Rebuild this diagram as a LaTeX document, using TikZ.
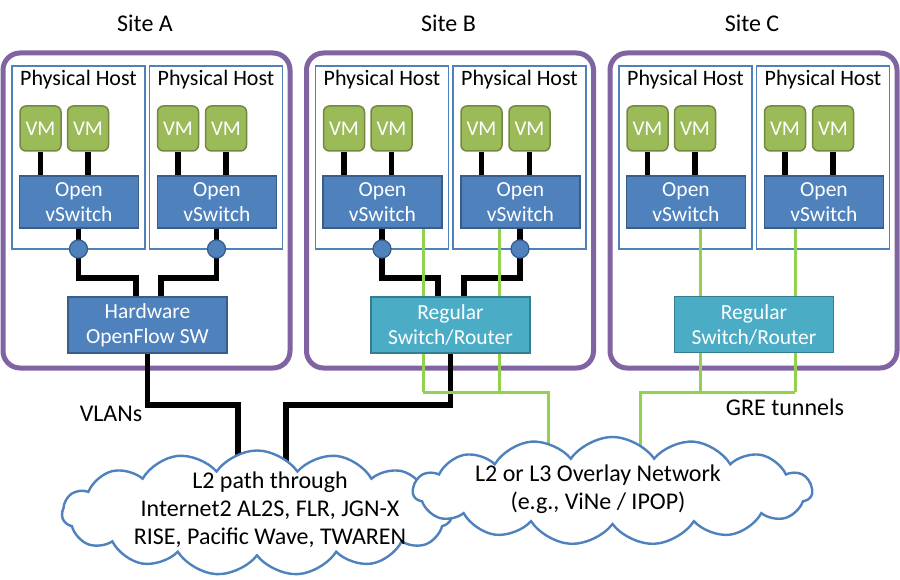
\documentclass[tikz,border=0pt]{standalone}
\usepackage{fontspec}
\setmainfont{Carlito}
\usetikzlibrary{shapes.symbols}
\definecolor{purp}{HTML}{8064A2}
\definecolor{hostblue}{HTML}{4F81BD}
\definecolor{swblue}{HTML}{4F81BD}
\definecolor{swborder}{HTML}{385D8A}
\definecolor{vmgreen}{HTML}{9BBB59}
\definecolor{vmborder}{HTML}{71893F}
\definecolor{regcyan}{HTML}{4BACC6}
\definecolor{regborder}{HTML}{357D91}
\definecolor{wiregreen}{HTML}{92D050}
\definecolor{cloudblue}{HTML}{4F81BD}
\pgfdeclarelayer{back}
\pgfdeclarelayer{wire}
\pgfsetlayers{back,wire,main}
\begin{document}
\begin{tikzpicture}[x=1pt,y=-1pt,
  sitebox/.style={draw=purp, line width=5pt, rounded corners=17pt, fill=white, minimum width=287pt, minimum height=315pt, inner sep=0pt},
  hostbox/.style={draw=hostblue, line width=1.3pt, minimum width=133pt, minimum height=183pt, inner sep=0pt},
  hostlabel/.style={font=\fontsize{22}{26}\selectfont, inner sep=0pt},
  titlelabel/.style={font=\fontsize{24}{28}\selectfont, inner sep=0pt},
  vmbox/.style={draw=vmborder, fill=vmgreen, line width=1.5pt, rounded corners=6pt, minimum width=41pt, minimum height=45pt, inner sep=0pt, text=white, font=\fontsize{21}{25}\selectfont},
  vsbox/.style={draw=swborder, fill=swblue, line width=1.5pt, minimum width=119pt, minimum height=52pt, inner sep=0pt, text=white, align=center, font=\fontsize{21.5}{25}\selectfont},
  hwbox/.style={draw=swborder, fill=swblue, line width=1.5pt, minimum width=159pt, minimum height=56pt, inner sep=0pt, text=white, align=center, font=\fontsize{21.5}{25}\selectfont},
  regbox/.style={draw=regborder, fill=regcyan, line width=1.5pt, minimum width=159pt, minimum height=56pt, inner sep=0pt, text=white, align=center, font=\fontsize{21.5}{25}\selectfont},
  port/.style={circle, draw=swborder, fill=swblue, line width=1.3pt, minimum size=18pt, inner sep=0pt},
  blackwire/.style={draw=black, line width=5.5pt},
  greenwire/.style={draw=wiregreen, line width=3pt},
  cloudshape/.style={cloud, draw=cloudblue, fill=white, line width=2.4pt, cloud ignores aspect, inner sep=0pt},
  cloudtext/.style={align=center, font=\fontsize{24}{28}\selectfont, inner sep=0pt},
  plainlabel/.style={font=\fontsize{24}{28}\selectfont, inner sep=0pt}
]
\useasboundingbox (0,0) rectangle (900,580);
\begin{pgfonlayer}{back}
  \fill[white] (0,0) rectangle (900,580);
\end{pgfonlayer}

\foreach \s/\o in {A/0,B/303.5,C/607}{
  \begin{pgfonlayer}{back}
    \node[sitebox] (site\s) at (\o+146.5,210.5) {};
    \node[hostbox] (host\s1) at (\o+78.5,157.5) {};
    \node[hostbox] (host\s2) at (\o+216,157.5) {};
  \end{pgfonlayer}
  \node[titlelabel] (title\s) at (\o+145,23) {Site \s};
  \node[hostlabel] (hl\s1) at (\o+78.5,80) {Physical Host};
  \node[hostlabel] (hl\s2) at (\o+216,80) {Physical Host};
  \node[vmbox] (vm\s11) at (\o+40.5,128.5) {VM};
  \node[vmbox] (vm\s12) at (\o+88,128.5) {VM};
  \node[vmbox] (vm\s21) at (\o+178,128.5) {VM};
  \node[vmbox] (vm\s22) at (\o+226,128.5) {VM};
  \node[vsbox] (vs\s1) at (\o+79,202) {Open\\vSwitch};
  \node[vsbox] (vs\s2) at (\o+217,202) {Open\\vSwitch};
  \begin{pgfonlayer}{wire}
    \draw[blackwire] (vm\s11.south) -- (vm\s11.south |- vs\s1.north);
    \draw[blackwire] (vm\s12.south) -- (vm\s12.south |- vs\s1.north);
    \draw[blackwire] (vm\s21.south) -- (vm\s21.south |- vs\s2.north);
    \draw[blackwire] (vm\s22.south) -- (vm\s22.south |- vs\s2.north);
  \end{pgfonlayer}
}

% switches
\node[hwbox] (hwA) at (147.5,325) {Hardware\\OpenFlow SW};
\node[regbox] (regB) at (450.5,325) {Regular\\Switch/Router};
\node[regbox] (regC) at (754,324.5) {Regular\\Switch/Router};

% ports
\node[port] (pA1) at (78.5,249) {};
\node[port] (pA2) at (216.5,249) {};
\node[port] (pB1) at (382,249) {};
\node[port] (pB2) at (520,249) {};

% junction coordinates
\coordinate (jA1) at (136,278);
\coordinate (jA2) at (161,278);
\coordinate (jB1) at (438,278);
\coordinate (jB2) at (464,278);
\coordinate (vl1) at (238,405);
\coordinate (vl1e) at (238,470);
\coordinate (vl2) at (286,405);
\coordinate (vl2e) at (286,470);
\coordinate (gB1) at (423,392);
\coordinate (gB2) at (499,392);
\coordinate (gB3) at (548,392);
\coordinate (gB4) at (548,460);
\coordinate (gC1) at (700,392);
\coordinate (gC2) at (795,392);
\coordinate (gC3) at (640,392);
\coordinate (gC4) at (640,460);

\begin{pgfonlayer}{wire}
  \draw[blackwire] (pA1 |- vsA1.south) -- (pA1 |- jA1) -- (jA1) -- (jA1 |- hwA.north);
  \draw[blackwire] (pA2 |- vsA2.south) -- (pA2 |- jA2) -- (jA2) -- (jA2 |- hwA.north);
  \draw[blackwire] (pB1 |- vsB1.south) -- (pB1 |- jB1) -- (jB1) -- (jB1 |- regB.north);
  \draw[blackwire] (pB2 |- vsB2.south) -- (pB2 |- jB2) -- (jB2) -- (jB2 |- regB.north);
  \draw[blackwire] (hwA.south) -- (hwA.south |- vl1) -- (vl1) -- (vl1e);
  \draw[blackwire] (regB.south) -- (regB.south |- vl2) -- (vl2) -- (vl2e);
  \draw[greenwire] (gB1 |- vsB1.south) -- (gB1);
  \draw[greenwire] (gB2 |- vsB2.south) -- (gB2);
  \draw[greenwire] (gB1) -- (gB3) -- (gB4);
  \draw[greenwire] (gC1 |- vsC1.south) -- (gC1);
  \draw[greenwire] (gC2 |- vsC2.south) -- (gC2);
  \draw[greenwire] (gC2) -- (gC3) -- (gC4);
\end{pgfonlayer}

% labels
\node[plainlabel] (vlans) at (111,414) {VLANs};
\node[plainlabel] (gre) at (785,407) {GRE tunnels};

% clouds
\node[cloudshape, cloud puffs=15, cloud puff arc=110, minimum width=390pt, minimum height=125pt] (cloud1) at (257,513) {};
\node[cloudshape, cloud puffs=15, cloud puff arc=110, minimum width=399pt, minimum height=108pt] (cloud2) at (612.5,491) {};
\node[cloudtext] (t1) at (270,510) {L2 path through\\Internet2 AL2S, FLR, JGN-X\\RISE, Pacific Wave, TWAREN};
\node[cloudtext] (t2) at (598,489) {L2 or L3 Overlay Network\\(e.g., ViNe / IPOP)};
\end{tikzpicture}
\end{document}
